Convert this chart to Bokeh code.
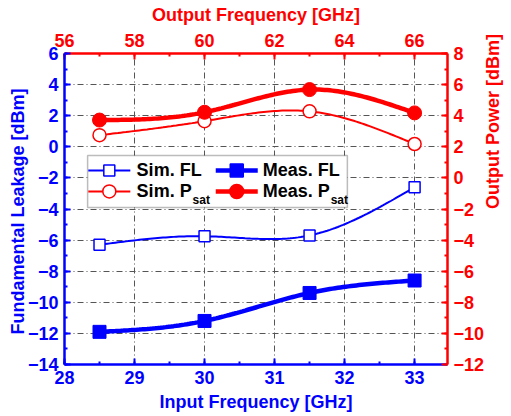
import math
import numpy as np
from bokeh.plotting import figure
from bokeh.models import Range1d, LinearAxis, BoxAnnotation, Label, SingleIntervalTicker
from bokeh.embed import file_html
from bokeh.resources import INLINE

# ---- data ----
input_freq = [28.5, 30.0, 31.5, 33.0]          # GHz (bottom axis)
output_freq = [57.0, 60.0, 63.0, 66.0]         # GHz (top axis)
sim_fl = [-6.3, -5.75, -5.7, -2.6]             # dBm (left axis)
meas_fl = [-11.9, -11.2, -9.4, -8.6]           # dBm (left axis)
sim_psat = [2.75, 3.65, 4.28, 2.18]            # dBm (right axis)
meas_psat = [3.72, 4.22, 5.68, 4.18]           # dBm (right axis)

BLUE = "#0000FF"
RED = "#FF0000"
FONT = "Liberation Sans"


def spline(xs, ys, n=120):
    """Natural cubic spline through the given points (for smooth drawing)."""
    x = np.asarray(xs, float); y = np.asarray(ys, float)
    k = len(x); h = np.diff(x)
    A = np.zeros((k, k)); b = np.zeros(k)
    A[0, 0] = A[-1, -1] = 1
    for i in range(1, k - 1):
        A[i, i - 1] = h[i - 1]; A[i, i] = 2 * (h[i - 1] + h[i]); A[i, i + 1] = h[i]
        b[i] = 3 * ((y[i + 1] - y[i]) / h[i] - (y[i] - y[i - 1]) / h[i - 1])
    c = np.linalg.solve(A, b)
    xx = np.linspace(x[0], x[-1], n); yy = np.empty_like(xx)
    for j, t in enumerate(xx):
        i = min(np.searchsorted(x, t, side="right") - 1, k - 2)
        bi = (y[i + 1] - y[i]) / h[i] - h[i] * (2 * c[i] + c[i + 1]) / 3
        di = (c[i + 1] - c[i]) / (3 * h[i])
        d = t - x[i]
        yy[j] = y[i] + bi * d + c[i] * d * d + di * d ** 3
    return xx, yy


p = figure(frame_width=383, frame_height=311, output_backend="svg", toolbar_location=None,
           x_range=Range1d(28, 33.47), y_range=Range1d(-14, 6),
           min_border_left=64, min_border_right=63, min_border_top=53, min_border_bottom=51)
p.outline_line_color = None
p.background_fill_color = "white"
p.extra_x_ranges = {"top": Range1d(56, 66.94)}
p.extra_y_ranges = {"right": Range1d(-12, 8)}

# grid
p.xgrid.ticker = SingleIntervalTicker(interval=1)
p.ygrid.ticker = SingleIntervalTicker(interval=2)
for g in (p.xgrid, p.ygrid):
    g.grid_line_color = "#555555"
    g.grid_line_dash = "6 3 1 3"
    g.grid_line_width = 1


def style_axis(ax, color, label, lab_standoff, title_standoff):
    ax.axis_label = label
    ax.axis_label_text_font = FONT
    ax.axis_label_text_font_style = "bold"
    ax.axis_label_text_font_size = "18px"
    ax.axis_label_text_color = color
    ax.axis_label_standoff = title_standoff
    ax.major_label_text_font = FONT
    ax.major_label_text_font_style = "bold"
    ax.major_label_text_font_size = "18px"
    ax.major_label_text_color = color
    ax.major_label_standoff = lab_standoff
    ax.axis_line_color = color
    ax.axis_line_width = 2.5
    ax.major_tick_line_color = color
    ax.minor_tick_line_color = color
    ax.major_tick_line_width = 2
    ax.minor_tick_line_width = 2
    ax.major_tick_in = 6
    ax.major_tick_out = 0
    ax.minor_tick_in = 3
    ax.minor_tick_out = 0


bottom = p.xaxis[0]
bottom.ticker = SingleIntervalTicker(interval=1, num_minor_ticks=2)
style_axis(bottom, BLUE, "Input Frequency [GHz]", 6, 5)
left = p.yaxis[0]
left.ticker = SingleIntervalTicker(interval=2, num_minor_ticks=2)
style_axis(left, BLUE, "Fundamental Leakage  [dBm]", 6, -3)

top = LinearAxis(x_range_name="top", ticker=SingleIntervalTicker(interval=2, num_minor_ticks=2))
style_axis(top, RED, "Output Frequency [GHz]", 7, 6)
p.add_layout(top, "above")
right = LinearAxis(y_range_name="right", ticker=SingleIntervalTicker(interval=2, num_minor_ticks=2))
style_axis(right, RED, "Output Power [dBm]", 6, 6)
right.axis_label_orientation = math.pi / 2
p.add_layout(right, "right")

# ---- series ----
xs, ys = spline(input_freq, sim_fl)
p.line(xs, ys, line_color=BLUE, line_width=2)
p.scatter(input_freq, sim_fl, marker="square", size=11, line_color=BLUE, fill_color="white", line_width=1.5)

xs, ys = spline(input_freq, meas_fl)
p.line(xs, ys, line_color=BLUE, line_width=4.5)
p.scatter(input_freq, meas_fl, marker="square", size=13, line_color=BLUE, fill_color=BLUE)

xs, ys = spline(output_freq, sim_psat)
p.line(xs, ys, line_color=RED, line_width=2, x_range_name="top", y_range_name="right")
p.scatter(output_freq, sim_psat, marker="circle", size=13, line_color=RED, fill_color="white",
          line_width=1.5, x_range_name="top", y_range_name="right")

xs, ys = spline(output_freq, meas_psat)
p.line(xs, ys, line_color=RED, line_width=4.5, x_range_name="top", y_range_name="right")
p.scatter(output_freq, meas_psat, marker="circle", size=14, line_color=RED, fill_color=RED,
          x_range_name="top", y_range_name="right")

# ---- legend (manual, for the subscript) ----
p.add_layout(BoxAnnotation(left=28.33, right=32.04, top=-0.56, bottom=-3.9,
                           fill_color="white", fill_alpha=1, line_color="#222222", line_width=1.5))
rows = [-1.52, -2.87]
cols = [(28.34, 28.94, 28.64, 29.03), (30.16, 30.76, 30.46, 30.83)]
entries = [
    (0, 0, BLUE, 2, "square", 11, "white", "Sim. FL", None),
    (0, 1, BLUE, 4.5, "square", 13, BLUE, "Meas. FL", None),
    (1, 0, RED, 2, "circle", 13, "white", "Sim. P", 56),
    (1, 1, RED, 4.5, "circle", 14, RED, "Meas. P", 68),
]
for r, c, col, lw, mk, sz, fill, txt, sub in entries:
    x0, x1, xm, xt = cols[c]
    y = rows[r]
    p.line([x0, x1], [y, y], line_color=col, line_width=lw, level="overlay")
    p.scatter([xm], [y], marker=mk, size=sz, line_color=col, fill_color=fill, line_width=1.5, level="overlay")
    p.add_layout(Label(x=xt, y=y, text=txt, text_font=FONT, text_font_style="bold",
                       text_font_size="18px", text_color="black", text_baseline="middle"))
    if sub:
        p.add_layout(Label(x=xt, y=y, x_offset=sub, y_offset=-9, text="sat", text_font=FONT,
                           text_font_style="bold", text_font_size="12px", text_color="black",
                           text_baseline="middle"))

open("out.html", "w").write(file_html(p, INLINE))
